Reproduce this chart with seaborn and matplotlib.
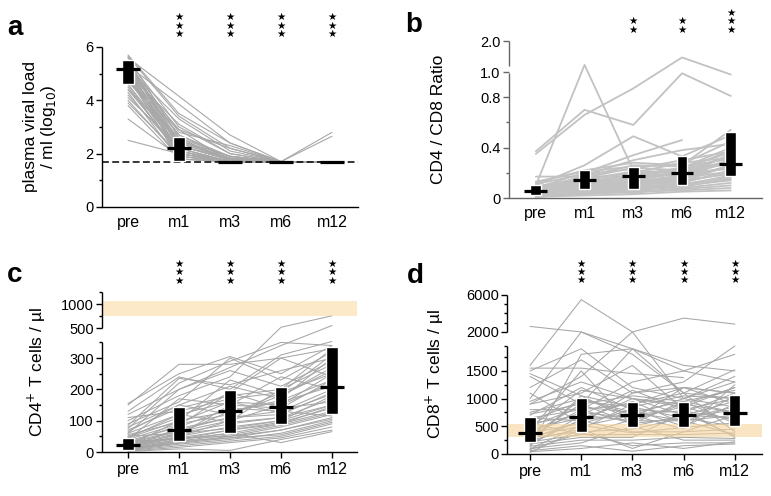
import numpy as np
import pandas as pd
import matplotlib
matplotlib.use("Agg")
import matplotlib.pyplot as plt
import seaborn as sns
from matplotlib.transforms import blended_transform_factory

nan = np.nan
timepoints = ["pre", "m1", "m3", "m6", "m12"]

# one row per patient: pre, m1, m3, m6, m12
viral_load = [
    [5.7, 3.5, 2.4, 1.7, 1.7], [5.6, 2.6, 1.9, 1.7, 1.7], [5.5, 2.4, 1.8, 1.7, 1.7],
    [5.5, 3.0, 2.0, 1.7, 1.7], [5.4, 2.2, 1.7, 1.7, 1.7], [5.4, 2.8, 2.3, 1.7, 1.7],
    [5.3, 2.0, 1.7, 1.7, 1.7], [5.3, 2.5, 1.8, 1.7, 1.7], [5.2, 2.1, 1.7, 1.7, 1.7],
    [5.2, 3.3, 2.1, 1.7, 1.7], [5.1, 1.9, 1.7, 1.7, 1.7], [5.1, 2.3, 1.8, 1.7, 1.7],
    [5.0, 2.7, 1.9, 1.7, 1.7], [5.0, 2.0, 1.7, 1.7, 1.7], [4.9, 2.2, 1.7, 1.7, 2.8],
    [4.9, 1.8, 1.7, 1.7, 1.7], [4.8, 2.4, 1.8, 1.7, 1.7], [4.8, 2.1, 1.7, 1.7, 1.7],
    [4.7, 2.9, 2.2, 1.7, 1.7], [4.6, 1.9, 1.7, 1.7, 1.7], [4.6, 2.2, 1.7, 1.7, 2.65],
    [4.5, 2.0, 1.7, 1.7, 1.7], [4.4, 2.5, 1.9, 1.7, 1.7], [4.3, 1.8, 1.7, 1.7, 1.7],
    [4.2, 2.1, 1.7, 1.7, 1.7], [4.1, 2.3, 1.8, 1.7, 1.7], [4.0, 1.9, 1.7, 1.7, 1.7],
    [3.9, 2.0, 1.7, 1.7, 1.7], [3.8, 1.8, 1.7, 1.7, 1.7], [3.3, 1.9, 1.7, 1.7, 1.7],
    [2.5, 2.0, 1.7, 1.7, 1.7], [5.6, nan, 2.7, 1.7, 1.7], [5.3, nan, 2.4, 1.7, nan],
    [5.0, 3.1, 2.0, 1.7, 1.7], [4.7, 2.6, 1.7, 1.7, 1.7], [5.45, 2.3, 1.75, 1.7, 1.7],
    [5.15, 2.9, 1.7, 1.7, 1.7], [4.95, 2.45, 1.85, 1.7, 1.7], [4.4, 2.1, 1.7, 1.7, 1.7],
    [5.65, 3.4, 2.2, 1.7, 1.7], [5.25, 2.7, 1.8, 1.7, 1.7],
]
vl_q1 = [4.6, 1.72, 1.7, 1.7, 1.7]
vl_med = [5.16, 2.2, 1.7, 1.7, 1.7]
vl_q3 = [5.51, 2.61, 1.7, 1.7, 1.7]

cd4_cd8 = [
    [0.35, 0.66, 0.87, 1.47, 0.98], [0.37, 0.70, 0.58, 0.99, 0.81], [0.10, 1.23, 0.22, 0.20, 0.30],
    [0.10, 0.26, 0.49, 0.33, 0.50], [0.08, 0.20, 0.34, 0.46, nan], [0.06, 0.18, 0.30, 0.38, 0.43],
    [0.17, 0.17, 0.17, 0.24, 0.36], [0.12, 0.22, 0.28, 0.26, 0.54], [0.05, 0.12, 0.18, 0.24, 0.40],
    [0.04, 0.10, 0.14, 0.20, 0.34], [0.09, 0.16, 0.24, 0.22, 0.38], [0.03, 0.08, 0.12, 0.16, 0.30],
    [0.07, 0.14, 0.20, 0.28, 0.32], [0.02, 0.06, 0.08, 0.12, 0.22], [0.05, 0.09, 0.16, 0.19, 0.28],
    [0.06, 0.13, 0.11, 0.15, 0.26], [0.03, 0.05, 0.07, 0.10, 0.18], [0.04, 0.11, 0.19, 0.23, 0.27],
    [0.08, 0.15, 0.21, 0.17, 0.25], [0.02, 0.04, 0.06, 0.09, 0.15], [0.05, 0.07, 0.10, 0.13, 0.20],
    [0.03, 0.09, 0.13, 0.18, 0.24], [0.11, 0.19, 0.23, 0.30, 0.37], [0.01, 0.03, 0.05, 0.07, 0.10],
    [0.04, 0.06, 0.09, 0.11, 0.17], [0.06, 0.12, 0.15, 0.21, 0.29], [0.02, 0.05, 0.04, 0.08, 0.12],
    [0.07, 0.17, 0.26, 0.25, 0.31], [0.03, 0.08, 0.11, 0.14, 0.19], [0.05, 0.10, 0.17, 0.20, 0.23],
    [0.01, 0.02, 0.03, 0.05, 0.06], [0.09, 0.14, 0.12, 0.16, 0.21], [0.04, 0.07, 0.08, 0.10, 0.14],
    [0.02, 0.04, 0.05, 0.06, 0.08], [0.06, 0.11, 0.13, 0.17, 0.35], [0.13, 0.21, 0.25, 0.27, 0.45],
    [0.07, 0.13, 0.18, 0.22, 0.33], [0.03, 0.06, 0.10, 0.13, 0.26], [0.01, 0.04, 0.07, 0.09, 0.16],
]
ratio_q1 = [0.027, 0.07, 0.075, 0.107, 0.176]
ratio_med = [0.053, 0.14, 0.173, 0.20, 0.267]
ratio_q3 = [0.10, 0.22, 0.25, 0.33, 0.52]

cd4 = [
    [150, 280, 280, 300, 330], [155, 250, 305, 250, 340], [130, 240, 200, 310, 360],
    [120, 200, 270, 340, 560], [100, 180, 240, 525, 760], [90, 160, 300, 230, 320],
    [80, 150, 210, 170, 300], [70, 140, 180, 200, 280], [60, 120, 160, 150, 250],
    [50, 110, 190, 140, 230], [45, 100, 130, 160, 210], [40, 90, 120, 180, 260],
    [35, 80, 140, 130, 200], [30, 70, 110, 120, 190], [28, 65, 100, 150, 220],
    [25, 60, 90, 110, 170], [22, 55, 150, 140, 160], [20, 50, 80, 100, 150],
    [18, 45, 70, 95, 140], [15, 40, 60, 90, 130], [12, 35, 55, 85, 125],
    [10, 30, 50, 80, 120], [8, 28, 45, 70, 110], [6, 25, 40, 60, 100],
    [5, 20, 35, 50, 90], [3, 15, 30, 45, 80], [2, 10, 5, 40, 70],
    [35, 40, 60, 30, 65], [60, 200, 260, 210, 290], [110, 130, 170, 190, 310],
    [20, 100, 230, 180, 270], [40, 170, 150, 240, 200], [15, 75, 110, 130, 115],
    [25, 45, 50, 70, 105], [50, 60, 75, 100, 180], [10, 50, 100, 200, 330],
    [30, 85, 190, 300, 240], [5, 35, 45, 55, 95], [75, 220, 290, 350, 340],
    [45, 120, 95, 110, 150], [85, 235, 215, 260, 300], [12, 60, 130, 165, 230],
    [55, 95, 160, 125, 185], [8, 40, 70, 90, 145], [65, 150, 120, 190, 250],
]
cd4_q1 = [7, 34, 60, 91, 122]
cd4_med = [23, 69, 130, 145, 209]
cd4_q3 = [46, 143, 199, 206, 334]

cd8 = [
    [2600, 2000, 1900, 1600, 1500], [1600, 5500, 2000, 3500, 2850], [1550, 1550, 1450, 1380, nan],
    [1500, 1900, 1200, 1000, 1400], [1400, 900, 1900, 1500, 1300], [1200, 1700, 1100, 1200, 1100],
    [1000, 2000, 1800, 1100, 1520], [950, 1300, 1000, 900, 1200], [900, 1100, 1600, 800, 1000],
    [800, 800, 900, 1200, 900], [750, 1000, 700, 1000, 850], [700, 1200, 800, 750, 1100],
    [650, 600, 1000, 700, 950], [600, 950, 850, 650, 800], [550, 700, 600, 900, 750],
    [500, 850, 750, 600, 700], [450, 650, 950, 550, 1050], [420, 1500, 500, 700, 650],
    [400, 750, 650, 850, 600], [380, 550, 800, 500, 900], [350, 900, 550, 950, 550],
    [320, 500, 700, 450, 1250], [300, 400, 450, 650, 500], [280, 600, 400, 400, 450],
    [250, 450, 900, 1100, 400], [220, 350, 350, 350, 380], [200, 1050, 600, 600, 350],
    [180, 300, 300, 750, 320], [160, 700, 1150, 800, 300], [140, 250, 250, 300, 280],
    [120, 1800, 1900, 1100, 1000], [100, 200, 500, 250, 250], [80, 380, 150, 200, 200],
    [60, 150, 50, 150, 180], [40, 100, 200, 100, 220], [30, 450, 100, 400, 700],
    [1100, 550, 1100, 1300, 1950], [900, 1400, 2000, 1000, 1300], [650, 800, 1300, 1500, 1800],
    [250, 1000, 750, 950, 1150], [1450, 1050, 850, 1050, 1000], [480, 1150, 1000, 850, 1200],
    [330, 800, 550, 650, 850], [190, 620, 720, 780, 620], [90, 520, 380, 480, 560],
    [560, 350, 620, 1200, 1100], [720, 900, 1050, 950, 750],
]
cd8_q1 = [210, 390, 480, 492, 498]
cd8_med = [378, 672, 708, 702, 738]
cd8_q3 = [660, 1014, 942, 942, 1062]


def to_long(rows):
    df = pd.DataFrame(rows, columns=range(5))
    df["pid"] = range(len(df))
    df = df.melt(id_vars="pid", var_name="t", value_name="v").dropna()
    df["t"] = df["t"].astype(int)
    return df


def piecewise(dk, sk):
    d = np.asarray(dk, float)
    s = np.asarray(sk, float)
    d = np.r_[d[0] - 1e4 * (d[1] - d[0]), d, d[-1] + 1e4 * (d[-1] - d[-2])]
    s = np.r_[s[0] - 1e4 * (s[1] - s[0]), s, s[-1] + 1e4 * (s[-1] - s[-2])]
    return (lambda v: np.interp(v, d, s)), (lambda v: np.interp(v, s, d))


sns.set_style("ticks")
plt.rcParams["font.family"] = ["Liberation Sans", "DejaVu Sans"]
for key in ["text.color", "axes.labelcolor", "xtick.color", "ytick.color", "axes.edgecolor"]:
    plt.rcParams[key] = "black"

fig = plt.figure(figsize=(7.71, 4.96), dpi=100)


def panel(rect, rows, q1, med, q3, xlim, ylim, knots, segments, majors, labels, minors,
          stars, star_y, label, label_x, line_color="#a6a6a6", lw=0.75, xticks=True,
          spine_color="black"):
    ax = fig.add_axes(rect)
    df = to_long(rows)
    sns.lineplot(data=df, x="t", y="v", units="pid", estimator=None, color=line_color,
                 linewidth=lw, legend=False, ax=ax, zorder=2)
    pos = np.arange(5)
    ax.bar(pos, np.array(q3) - np.array(q1), bottom=q1, width=0.22, color="black", zorder=4)
    ax.hlines(med, pos - 0.235, pos + 0.235, color="black", lw=2.3, zorder=5)
    if knots is not None:
        fwd, inv = piecewise(*knots)
        ax.set_yscale("function", functions=(fwd, inv))
    ax.set_xlim(*xlim)
    ax.set_ylim(*ylim)
    ax.set_yticks(majors, labels)
    ax.set_yticks(minors, minor=True)
    ax.set_xticks(pos, timepoints)
    ax.set_xlabel("")
    ax.set_ylabel("")
    sns.despine(ax=ax, left=True)
    ax.spines["bottom"].set_color(spine_color)
    ax.spines["bottom"].set_linewidth(1.0)
    tr = blended_transform_factory(ax.transAxes, ax.transData)
    for lo, hi in segments:
        ax.plot([0, 0], [lo, hi], transform=tr, color=spine_color, lw=1.0,
                clip_on=False, solid_capstyle="butt", zorder=6)
    ax.tick_params(axis="y", which="major", length=4, width=1.0, labelsize=10.5, pad=2,
                   color=spine_color, labelcolor="black")
    ax.tick_params(axis="y", which="minor", length=2.5, width=1.0, color=spine_color)
    ax.tick_params(axis="x", length=4 if xticks else 0, width=1.0, labelsize=11.5,
                   pad=3 if xticks else 6, labelcolor="black")
    trs = blended_transform_factory(ax.transData, ax.transAxes)
    for i, n in enumerate(stars):
        if n:
            ax.text(i, star_y, "\n".join(["★"] * n), transform=trs, ha="center", va="bottom",
                    fontsize=7.5, linespacing=0.8, family="DejaVu Sans")
    ax.set_ylabel(label, fontsize=12.5, linespacing=1.1)
    ax.yaxis.set_label_coords(label_x, 0.5)
    return ax


ax_a = panel([0.1323, 0.5827, 0.332, 0.3226], viral_load, vl_q1, vl_med, vl_q3,
             (-0.51, 4.51), (0, 6), None, [(0, 6)], [0, 2, 4, 6], ["0", "2", "4", "6"],
             [1, 3, 5], [0, 3, 3, 3, 3], 1.05, "plasma viral load\n/ ml (log$_{10}$)",
             -0.17, line_color="#a8a8a8", lw=0.8, xticks=False)
ax_a.axhline(1.7, ls=(0, (4.5, 2.2)), color="black", lw=1.1, zorder=3)

ax_b = panel([0.6602, 0.6008, 0.3281, 0.3165], cd4_cd8, ratio_q1, ratio_med, ratio_q3,
             (-0.55, 4.64), (0, 2.0), ([0, 1.0, 2.0], [0, 126, 157]),
             [(0, 0.99), (1.2, 2.0)], [0, 0.4, 0.8, 1.0, 2.0], ["0", "0.4", "0.8", "1.0", "2.0"],
             [0.2, 0.6], [0, 0, 2, 2, 3], 1.04, "CD4 / CD8 Ratio", -0.25,
             line_color="#c2c2c2", lw=1.3, xticks=False, spine_color="#666666")

ax_c = panel([0.1323, 0.0887, 0.3307, 0.3226], cd4, cd4_q1, cd4_med, cd4_q3,
             (-0.51, 4.49), (0, 1250), ([0, 350, 500, 1250], [0, 110, 124, 160.6]),
             [(0, 350), (500, 1250)], [0, 100, 200, 300, 500, 1000],
             ["0", "100", "200", "300", "500", "1000"], [50, 150, 250, 350, 750, 1250],
             [0, 3, 3, 3, 3], 1.04, "CD4$^{+}$ T cells / µl", -0.21)
ax_c.axhspan(750, 1070, color="#fbd89c", alpha=0.55, lw=0, zorder=3)

ax_d = panel([0.6576, 0.0847, 0.3307, 0.3206], cd8, cd8_q1, cd8_med, cd8_q3,
             (-0.45, 4.53), (0, 6000), ([0, 1950, 2000, 6000], [0, 108, 122, 159]),
             [(0, 1950), (2000, 6000)], [0, 500, 1000, 1500, 2000, 6000],
             ["0", "500", "1000", "1500", "2000", "6000"],
             [250, 750, 1250, 1750, 1950, 3000, 4000, 5000],
             [0, 3, 3, 3, 3], 1.06, "CD8$^{+}$ T cells / µl", -0.24)
ax_d.axhspan(300, 540, color="#f6d59c", alpha=0.6, lw=0, zorder=3)

for letter, x, y in [("a", 0.010, 0.929), ("b", 0.525, 0.935), ("c", 0.009, 0.431), ("d", 0.528, 0.429)]:
    fig.text(x, y, letter, fontsize=20, fontweight="bold", va="baseline")

fig.savefig("out.png", dpi=100)
